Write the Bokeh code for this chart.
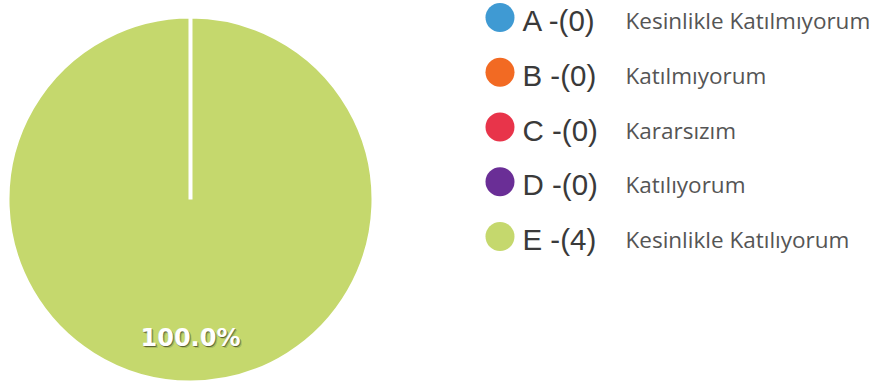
import math
from bokeh.plotting import figure
from bokeh.models import Range1d, ColumnDataSource
from bokeh.core.properties import value
from bokeh.embed import file_html
from bokeh.resources import INLINE

# ---- data ----
letters = ["A", "B", "C", "D", "E"]
counts = [0, 0, 0, 0, 4]
names = ["Kesinlikle Katılmıyorum", "Katılmıyorum", "Kararsızım", "Katılıyorum", "Kesinlikle Katılıyorum"]
colors = ["#3F9AD3", "#F26A23", "#E8344A", "#6A2E96", "#C5D86D"]

W, H = 878, 385
p = figure(width=W, height=H, output_backend="svg", toolbar_location=None,
           x_range=Range1d(0, W), y_range=Range1d(0, H), min_border=0)
p.axis.visible = False
p.grid.visible = False
p.outline_line_color = None
p.background_fill_color = "white"
p.border_fill_color = "white"

def sy(y):
    # screen y -> data y
    return H - y

# ---- pie ----
cx, cy, R = 190, sy(199), 183
total = sum(counts)
starts, ends = [], []
cum = 0
for c in counts:
    a0 = math.pi / 2 - 2 * math.pi * cum / total
    sweep = min(2 * math.pi * c / total, 2 * math.pi - 1e-4)
    starts.append(a0)
    ends.append(a0 - sweep)
    cum += c
pie_src = ColumnDataSource(dict(start=starts, end=ends, color=colors))
p.wedge(x=cx, y=cy, radius=R, start_angle="start", end_angle="end", direction="clock",
        fill_color="color", line_color="white", line_width=4, source=pie_src)

# percentage label for the largest slice
imax = counts.index(max(counts))
pct = f"{100.0 * counts[imax] / total:.1f}%"
lx, ly = cx, sy(337)
for dx, dy, a in [(1, -1, 0.35), (2, -2, 0.15), (0, -1, 0.2)]:
    p.text(x=[lx + dx], y=[ly + dy], text=[pct], text_color="black", text_alpha=a,
           text_font=value("DejaVu Sans"), text_font_style="bold", text_font_size="24px",
           text_align="center", text_baseline="middle")
p.text(x=[lx], y=[ly], text=[pct], text_color="white",
       text_font=value("DejaVu Sans"), text_font_style="bold", text_font_size="24px",
       text_align="center", text_baseline="middle")

# ---- legend ----
row_c = [17 + 54.75 * i for i in range(len(letters))]
leg_src = ColumnDataSource(dict(
    x=[499.5] * len(letters),
    y=[sy(c) for c in row_c],
    ya=[sy(c + 3) for c in row_c],
    yl=[sy(c + 3) for c in row_c],
    xa=[522] * len(letters),
    xl=[625] * len(letters),
    color=colors,
    lab=[f"{l} -({c})" for l, c in zip(letters, counts)],
    name=names,
))
p.scatter(x="x", y="y", size=29, fill_color="color", line_color=None, source=leg_src)
p.text(x="xa", y="ya", text="lab", text_color="#3a3a3a", text_font=value("Liberation Sans"),
       text_font_size="29.5px", text_baseline="alphabetic", text_align="left", source=leg_src)
p.text(x="xl", y="yl", text="name", text_color="#555555", text_font=value("Open Sans"),
       text_font_size="22.5px", text_baseline="alphabetic", text_align="left", source=leg_src)

open("out.html", "w").write(file_html(p, INLINE))
